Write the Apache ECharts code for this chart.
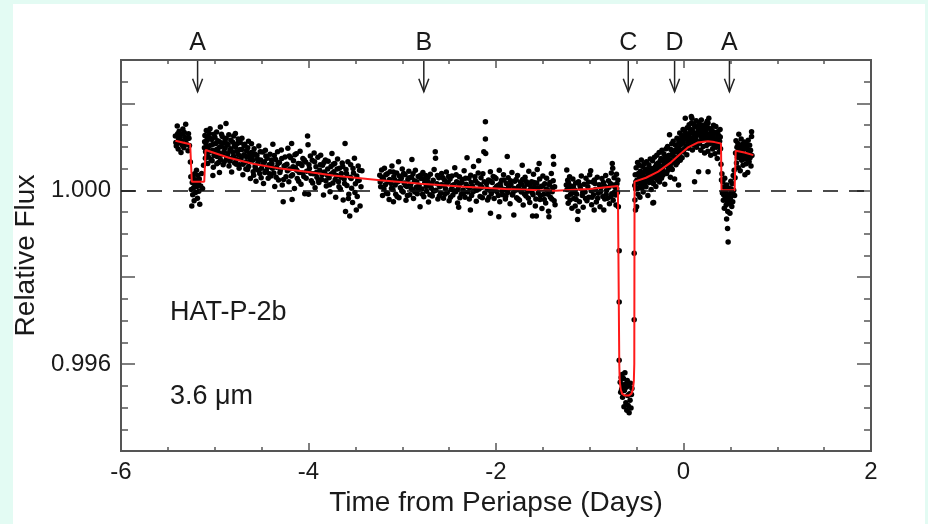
<!DOCTYPE html>
<html>
<head>
<meta charset="utf-8">
<script src="https://cdn.jsdelivr.net/npm/echarts@6/dist/echarts.min.js"></script>
<style>
  html, body { margin: 0; padding: 0; background: #e3fbf3; }
  #panel { position: absolute; left: 13px; top: 4px; width: 912px; height: 520px; background: #ffffff; }
  #chart { position: absolute; left: 0; top: 0; width: 928px; height: 524px; }
</style>
</head>
<body>
<div id="panel"></div>
<div id="chart"></div>
<script>
// Relative flux given as offsets from 1.000 in units of 1e-4 : [time (days), offset]
const seg1 = [[-5.42,12.5],[-5.41,10.2],[-5.40,14.8],[-5.39,9.5],[-5.385,11.8],[-5.38,13.6],[-5.37,10.9],[-5.36,8.7],[-5.355,12.9],[-5.35,11.3],[-5.34,14.1],[-5.33,9.8],[-5.32,12.2],[-5.31,15.2],[-5.30,10.6],[-5.29,11.9],[-5.285,9.1],[-5.28,13.0],[-5.27,10.3],
[-5.26,6.5],[-5.255,3.1],[-5.25,0.2],[-5.245,-3.6],[-5.24,1.8],[-5.235,-1.0],[-5.23,2.9],[-5.225,0.6],[-5.22,-2.4],[-5.215,3.8],[-5.21,1.2],[-5.205,-0.5],[-5.20,2.3],[-5.195,4.6],[-5.19,0.9],[-5.185,-1.8],[-5.18,3.4],[-5.175,1.5],[-5.17,-0.2],[-5.165,2.6],[-5.16,-3.2],[-5.15,1.0],[-5.14,3.9],[-5.13,0.4],[-5.12,5.8],
[-5.11,9.8],[-5.105,12.6],[-5.10,7.4],[-5.095,10.9],[-5.09,13.8],[-5.085,8.3],[-5.08,11.5],[-5.075,6.2],[-5.07,9.9],[-5.065,12.1],[-5.06,8.8],[-5.05,14.2],[-5.045,10.4],[-5.04,7.1],[-5.03,11.7],[-5.02,9.2],[-5.02,3.4],[-5.015,5.3],[-5.01,12.9],[-5.00,8.6],[-4.99,10.8],[-4.98,13.4],[-4.975,7.8],[-4.97,9.5],[-4.96,6.4],[-4.95,11.2],[-4.95,4.1],[-4.94,14.6],[-4.935,8.1],[-4.93,10.1],[-4.92,12.4],[-4.91,5.9],[-4.90,9.0],[-4.89,11.6],[-4.88,15.4],[-4.875,7.3],[-4.87,10.7],[-4.86,8.4],[-4.85,12.8],[-4.84,6.7],[-4.83,9.6],[-4.82,4.2],[-4.81,11.1],[-4.80,7.9],[-4.79,10.3],[-4.78,13.1],[-4.77,6.0],[-4.76,8.9],[-4.75,11.8],[-4.74,5.1],[-4.73,9.4],[-4.72,7.2],[-4.71,12.0],[-4.70,3.6],[-4.69,8.2],[-4.68,10.6],[-4.67,6.5],[-4.66,9.1],[-4.65,4.8],[-4.64,11.3],[-4.63,7.6],[-4.62,2.7],[-4.61,8.7],
[-4.60,7.8],[-4.59,4.3],[-4.58,9.6],[-4.57,5.5],[-4.56,2.1],[-4.55,8.1],[-4.54,6.3],[-4.53,10.2],[-4.52,3.9],[-4.51,7.0],[-4.50,5.1],[-4.49,8.8],[-4.48,1.6],[-4.47,6.6],[-4.46,9.2],[-4.45,4.5],[-4.44,7.4],[-4.43,2.8],[-4.42,5.9],[-4.41,8.3],[-4.40,3.3],[-4.39,6.1],[-4.38,10.6],[-4.37,4.0],[-4.36,0.9],[-4.35,7.1],[-4.34,5.3],[-4.33,8.9],[-4.32,2.4],[-4.31,6.4],[-4.30,4.7],[-4.29,9.3],[-4.28,1.2],[-4.27,-2.6],[-4.26,5.6],[-4.25,7.7],[-4.24,3.1],[-4.23,6.0],[-4.22,9.7],[-4.21,2.0],[-4.20,4.9],[-4.19,7.5],[-4.18,10.8],[-4.175,-2.1],[-4.17,3.6],[-4.16,6.8],[-4.15,0.4],[-4.14,5.2],[-4.13,8.4],[-4.12,2.7],[-4.11,6.2],[-4.10,4.1],[-4.09,9.0],[-4.08,1.4],[-4.07,5.7],[-4.06,7.3],[-4.05,3.2],[-4.04,-0.8],[-4.03,6.5],[-4.02,4.4],[-4.01,12.5],[-4.005,10.5],[-4.00,-0.9],[-3.99,5.0],[-3.98,7.9],[-3.97,2.2],[-3.96,6.9],[-3.95,3.8],[-3.94,8.6],[-3.93,0.6],[-3.92,5.4],[-3.91,3.0],[-3.90,7.6],[-3.89,1.8],[-3.88,4.6],[-3.87,8.1],[-3.86,2.5],[-3.85,5.8],[-3.84,-1.1],[-3.83,4.2],[-3.82,7.0],[-3.81,1.0],[-3.80,3.5],[-3.79,6.7],[-3.78,2.9],[-3.77,-0.3],[-3.76,5.5],[-3.75,8.5],[-3.74,1.7],[-3.73,4.3],[-3.72,6.2],[-3.71,-1.6],[-3.70,3.4],[-3.69,7.2],[-3.68,2.0],[-3.67,5.1],[-3.66,0.3],[-3.65,3.9],[-3.64,6.3],[-3.63,-2.2],[-3.62,2.6],[-3.61,10.8],[-3.605,-4.9],[-3.60,4.8],[-3.59,1.1],[-3.58,6.6],[-3.57,-0.9],[-3.56,-5.9],[-3.555,3.0],[-3.55,5.9],[-3.54,0.5],[-3.53,-2.8],[-3.52,4.0],[-3.51,7.4],[-3.50,1.5],[-3.49,-4.5],[-3.485,3.3],[-3.48,-1.4],[-3.47,5.6],[-3.46,2.3],[-3.45,-3.6],[-3.44,0.8],[-3.43,4.5]];

const seg1b = [[-5.415,11.0],[-5.395,13.0],[-5.375,12.1],[-5.345,10.4],[-5.325,13.3],[-5.305,11.7],[-5.275,12.0],
[-5.108,11.2],[-5.098,8.9],[-5.088,12.4],[-5.078,10.1],[-5.068,7.7],[-5.058,13.1],[-5.048,9.0],[-5.038,11.9],[-5.028,6.8],[-5.018,10.6],[-5.008,8.0],[-4.998,12.2],[-4.988,9.3],[-4.978,6.1],[-4.968,11.4],[-4.958,8.7],[-4.948,10.0],[-4.938,7.0],[-4.928,12.9],[-4.918,8.4],[-4.908,10.9],[-4.898,6.6],[-4.888,9.8],[-4.878,12.0],[-4.868,7.9],[-4.858,10.5],[-4.848,5.6],[-4.838,9.2],[-4.828,11.5],[-4.818,7.4],[-4.808,8.8],[-4.798,12.5],[-4.788,6.3],[-4.778,9.9],[-4.768,7.1],[-4.758,10.8],[-4.748,8.2],[-4.738,5.9],[-4.728,11.0],[-4.718,7.7],[-4.708,9.4],[-4.698,6.0],[-4.688,10.3],[-4.678,8.0],[-4.668,4.9],[-4.658,7.6],[-4.648,9.8],[-4.638,5.5],[-4.628,8.5],[-4.618,6.9],[-4.608,10.7],
[-4.595,6.9],[-4.585,3.5],[-4.575,8.4],[-4.565,5.0],[-4.545,7.2],[-4.535,4.6],[-4.515,8.9],[-4.505,2.9],[-4.485,6.0],[-4.465,4.1],[-4.455,7.9],[-4.435,5.3],[-4.415,3.8],[-4.395,7.0],[-4.385,5.1],[-4.365,8.0],[-4.345,3.0],[-4.325,6.2],[-4.305,4.1],[-4.285,7.3],[-4.265,2.5],[-4.245,5.8],[-4.225,4.5],[-4.205,7.9],[-4.185,3.3],[-4.165,5.4],[-4.145,8.2],[-4.125,4.6],[-4.105,2.1],[-4.085,6.1],[-4.065,4.0],[-4.045,7.0],[-4.025,2.8],[-3.995,5.9],[-3.975,3.9],[-3.955,1.7],[-3.935,6.6],[-3.915,4.1],[-3.895,2.4],[-3.875,5.9],[-3.855,3.6],[-3.835,6.4],[-3.815,2.2],[-3.795,4.9],[-3.775,1.3],[-3.755,3.8],[-3.735,6.0],[-3.715,2.5],[-3.695,4.9],[-3.675,0.8],[-3.655,3.0],[-3.635,5.5],[-3.615,1.6],[-3.595,3.9],[-3.575,-1.9],[-3.545,2.7],[-3.525,5.0],[-3.505,-0.5],[-3.475,2.2],[-3.455,4.6]];

const seg2 = [[-3.24,3.5],[-3.23,0.8],[-3.22,4.7],[-3.21,-1.2],[-3.20,2.6],[-3.19,5.1],[-3.18,1.3],[-3.17,-0.6],[-3.16,3.8],[-3.15,2.0],[-3.14,-2.1],[-3.13,4.3],[-3.12,1.6],[-3.11,5.6],[-3.10,0.2],[-3.094,-2.6],[-3.09,3.1],[-3.08,2.4],[-3.07,-0.9],[-3.06,4.0],[-3.05,1.9],[-3.04,6.6],[-3.035,-1.7],[-3.03,3.3],[-3.02,0.6],[-3.01,2.8],[-3.00,4.9],[-2.99,-0.4],[-2.98,1.7],[-2.97,3.6],[-2.96,-2.3],[-2.95,0.9],[-2.94,2.5],[-2.93,4.4],[-2.92,-1.0],[-2.91,1.4],[-2.90,3.0],[-2.897,7.1],[-2.89,0.1],[-2.88,-1.9],[-2.87,2.2],[-2.86,4.6],[-2.85,0.7],[-2.84,-0.8],[-2.83,3.2],[-2.82,1.1],[-2.81,-3.8],[-2.80,2.7],[-2.79,0.3],[-2.78,4.1],[-2.77,-1.5],[-2.76,1.8],[-2.75,3.4],[-2.74,-0.2],[-2.73,2.1],[-2.72,-2.7],[-2.71,1.0],[-2.70,3.7],[-2.69,0.5],[-2.68,-1.3],[-2.67,2.3],[-2.66,4.8],[-2.648,8.9],[-2.645,7.4],[-2.64,0.0],[-2.63,1.5],[-2.62,-2.0],[-2.61,2.9],[-2.60,0.8],[-2.59,-0.7],[-2.58,3.9],[-2.57,1.2],[-2.56,-1.8],[-2.55,2.4],[-2.54,0.4],[-2.53,4.2],[-2.52,-0.5],[-2.51,1.9],[-2.50,-2.4],[-2.49,2.6],[-2.48,0.2],[-2.47,3.3],[-2.46,-1.1],[-2.45,1.3],[-2.44,5.2],[-2.43,-0.3],[-2.42,2.0],[-2.41,-2.9],[-2.40,0.9],[-2.398,-3.9],[-2.39,3.1],[-2.38,1.6],[-2.37,-0.9],[-2.36,2.5],[-2.35,0.1],[-2.34,4.5],[-2.33,-1.6],[-2.32,1.4],[-2.309,7.5],[-2.30,-0.4],[-2.29,2.8],[-2.28,0.6],[-2.273,-4.5],[-2.27,3.5],[-2.26,-1.2],[-2.25,1.0],[-2.24,5.5],[-2.23,-0.1],[-2.22,2.2],[-2.21,-2.5],[-2.20,1.7],[-2.19,4.0],[-2.185,6.8],[-2.18,0.3],[-2.17,-1.4],[-2.16,2.9],[-2.15,0.7],[-2.14,3.8],[-2.13,8.9],[-2.12,-0.6],[-2.113,15.8],[-2.113,11.8],[-2.11,8.5],[-2.10,1.5],[-2.09,-2.2],[-2.08,2.4],[-2.07,0.0],[-2.06,4.3],[-2.059,-5.3],[-2.05,-0.8],[-2.04,1.8],[-2.03,3.2],[-2.02,-1.9],[-2.01,0.5],[-2.00,2.7],[-1.99,-0.3],[-1.98,1.1],[-1.97,-6.1],[-1.965,4.6],[-1.96,-2.6],[-1.95,0.8],[-1.94,2.3],[-1.93,-1.0],[-1.92,3.6],[-1.91,0.2],[-1.90,-2.0],[-1.89,1.6],[-1.88,7.8],[-1.875,-0.5],[-1.87,2.9],[-1.86,0.4],[-1.85,-3.1],[-1.84,1.3],[-1.83,4.1],[-1.82,-0.7],[-1.81,-5.7],[-1.80,2.1],[-1.79,0.0],[-1.78,-1.7],[-1.77,3.4],[-1.76,0.9],[-1.75,-2.3],[-1.74,1.9],[-1.73,-0.4],[-1.72,5.8],[-1.715,2.5],[-1.71,-3.4],[-1.70,0.6],[-1.69,3.0],[-1.68,-1.3],[-1.67,1.4],[-1.66,-0.2],[-1.65,4.4],[-1.64,-2.8],[-1.63,0.3],[-1.62,2.0],[-1.61,-5.9],[-1.605,-1.0],[-1.60,3.7],[-1.59,0.7],[-1.58,-3.6],[-1.57,-5.9],[-1.565,1.7],[-1.56,4.8],[-1.55,-0.6],[-1.54,6.2],[-1.535,2.6],[-1.53,-2.1],[-1.52,0.9],[-1.51,-4.2],[-1.50,3.3],[-1.49,-0.9],[-1.48,1.5],[-1.47,-2.9],[-1.46,2.8],[-1.45,0.1],[-1.44,-4.8],[-1.435,-6.1],[-1.43,1.2],[-1.42,-1.6],[-1.41,3.9],[-1.40,-0.3],[-1.39,2.2],[-1.388,7.8],[-1.385,6.0],[-1.38,-2.4],[-1.375,0.8],[-1.37,-3.3]];

const seg2b = [[-3.235,1.9],[-3.215,3.0],[-3.195,0.3],[-3.175,3.6],[-3.155,-0.8],[-3.135,2.5],[-3.115,0.5],[-3.095,4.2],[-3.075,1.2],[-3.055,-1.4],[-3.025,2.2],[-3.005,-0.1],[-2.985,3.9],[-2.965,1.1],[-2.945,-1.2],[-2.925,2.9],[-2.905,0.4],[-2.885,3.8],[-2.865,-0.4],[-2.845,2.0],[-2.825,0.2],[-2.805,3.5],[-2.785,-0.9],[-2.765,2.6],[-2.745,0.9],[-2.725,3.0],[-2.705,-1.0],[-2.685,1.6],[-2.665,-0.2],[-2.625,3.4],[-2.605,-1.3],[-2.585,1.3],[-2.565,2.9],[-2.545,-0.9],[-2.525,1.6],[-2.505,3.2],[-2.485,-1.6],[-2.465,1.1],[-2.445,-0.1],[-2.425,3.6],[-2.405,0.2],[-2.385,-1.7],[-2.365,1.9],[-2.345,-0.6],[-2.325,2.8],[-2.305,0.9],[-2.285,-2.0],[-2.265,1.8],[-2.245,-0.3],[-2.225,3.1],[-2.205,0.0],[-2.165,1.3],[-2.145,-1.7],[-2.125,2.0],[-2.095,0.4],[-2.075,-1.6],[-2.055,2.1],[-2.035,-0.1],[-2.015,3.0],[-1.995,0.9],[-1.975,-1.2],[-1.955,1.5],[-1.935,-0.2],[-1.915,2.4],[-1.895,-1.3],[-1.865,0.9],[-1.845,2.2],[-1.825,-1.1],[-1.805,0.4],[-1.785,2.5],[-1.765,-2.0],[-1.745,0.1],[-1.725,1.4],[-1.695,-0.9],[-1.675,2.0],[-1.655,-1.8],[-1.635,1.2],[-1.615,-0.5],[-1.595,1.8],[-1.575,-2.0],[-1.555,0.6],[-1.525,-1.2],[-1.505,1.0],[-1.485,-2.1],[-1.465,0.3],[-1.445,-0.9],[-1.425,1.8],[-1.405,-2.0],[-1.395,0.6]];

const seg3 = [[-1.25,1.2],[-1.245,4.7],[-1.24,-1.5],[-1.235,2.3],[-1.23,-3.0],[-1.22,0.4],[-1.215,3.1],[-1.21,-2.2],[-1.20,1.0],[-1.19,-4.1],[-1.185,-0.6],[-1.18,2.6],[-1.17,-1.9],[-1.16,0.1],[-1.155,-3.6],[-1.15,1.7],[-1.14,-0.9],[-1.13,-6.7],[-1.125,-4.8],[-1.12,2.0],[-1.11,-2.6],[-1.10,0.5],[-1.09,3.3],[-1.08,-1.2],[-1.07,-3.9],[-1.06,1.4],[-1.05,-0.4],[-1.04,2.8],[-1.03,-2.4],[-1.02,0.8],[-1.01,-1.6],[-1.00,3.6],[-0.99,4.5],[-0.985,-0.1],[-0.98,-3.3],[-0.97,1.9],[-0.96,-1.0],[-0.953,-4.5],[-0.95,2.4],[-0.94,0.2],[-0.93,-2.7],[-0.92,3.0],[-0.91,-0.7],[-0.90,1.3],[-0.89,-3.8],[-0.88,0.6],[-0.87,2.7],[-0.86,-1.4],[-0.85,-4.5],[-0.845,1.1],[-0.84,-2.0],[-0.83,3.4],[-0.82,0.0],[-0.81,-1.8],[-0.80,2.2],[-0.79,-3.1],[-0.78,1.6],[-0.77,4.0],[-0.765,-0.8],[-0.76,6.2],[-0.755,5.1],[-0.75,-2.3],[-0.74,2.9],[-0.73,0.7],[-0.725,-1.1],[-0.72,-3.4],[-0.715,3.7],[-0.71,1.5],[-0.705,-0.5],[-0.70,2.4],
[-1.242,0.2],[-1.228,1.8],[-1.205,-0.9],[-1.175,0.9],[-1.145,-2.1],[-1.105,1.1],[-1.075,-0.5],[-1.045,-1.9],[-1.015,1.9],[-0.975,-1.6],[-0.945,1.6],[-0.915,-1.8],[-0.885,-0.3],[-0.855,1.8],[-0.825,-0.9],[-0.795,0.7],[-0.775,-1.5],[-0.745,1.2],[-0.735,-0.4],[-0.712,0.4]];

const transitC = [[-0.695,-3.8],[-0.686,-13.9],[-0.686,-25.7],[-0.686,-39.1],[-0.675,-44.2],[-0.67,-46.5],[-0.665,-43.1],[-0.66,-45.8],[-0.655,-42.4],[-0.65,-47.6],[-0.645,-44.9],[-0.64,-43.3],[-0.635,-49.8],[-0.63,-46.1],[-0.625,-42.0],[-0.62,-44.6],[-0.615,-48.9],[-0.61,-45.3],[-0.605,-50.6],[-0.60,-43.8],[-0.595,-47.2],[-0.59,-49.5],[-0.585,-45.0],[-0.58,-51.2],[-0.575,-46.8],[-0.57,-48.3],[-0.565,-44.4],[-0.56,-50.1],[-0.555,-47.0],[-0.55,-45.6],[-0.526,-14.5],[-0.526,-29.8]];

const seg4 = [[-0.52,1.1],[-0.518,-2.2],[-0.515,3.6],[-0.512,-4.5],[-0.51,0.3],[-0.505,5.2],[-0.50,-3.8],[-0.495,2.4],[-0.49,6.4],[-0.485,-0.9],[-0.48,3.9],[-0.475,1.6],[-0.47,5.8],[-0.465,-1.6],[-0.46,4.4],[-0.455,2.0],[-0.45,7.0],[-0.445,0.5],[-0.44,3.2],[-0.435,5.5],[-0.43,-0.4],[-0.425,2.7],[-0.42,6.1],[-0.415,1.3],[-0.41,4.8],[-0.405,3.0],[-0.40,0.8],[-0.395,6.6],[-0.39,2.2],[-0.385,4.1],[-0.38,-1.2],[-0.375,3.4],[-0.37,5.9],[-0.365,1.8],[-0.36,4.6],[-0.355,7.2],[-0.35,2.6],[-0.345,0.2],[-0.34,5.0],[-0.335,3.7],[-0.33,6.8],[-0.327,-2.9],[-0.32,1.5],[-0.319,-2.8],[-0.315,4.3],[-0.31,7.6],[-0.305,2.9],[-0.30,5.4],[-0.295,0.9],[-0.29,3.8],[-0.285,8.1],[-0.28,4.9],[-0.275,2.3],[-0.27,6.3],[-0.265,3.3],[-0.26,8.7],[-0.255,1.9],[-0.25,5.6],[-0.245,4.0],[-0.24,7.3],[-0.235,2.8],[-0.23,9.2],[-0.225,5.1],[-0.22,3.5],[-0.215,6.9],[-0.21,8.4],[-0.205,4.2],[-0.20,1.4],[-0.195,7.8],[-0.19,5.7],[-0.185,9.6],[-0.18,3.9],[-0.175,6.5],[-0.17,10.1],[-0.165,4.6],[-0.16,8.0],[-0.155,5.3],[-0.149,12.8],[-0.145,7.0],[-0.14,3.0],[-0.135,9.4],[-0.13,6.2],[-0.125,10.7],[-0.12,4.8],[-0.115,8.6],[-0.11,11.3],[-0.105,6.7],[-0.10,9.0],[-0.095,2.6],[-0.09,7.4],[-0.085,10.4],[-0.08,5.9],[-0.075,8.9],[-0.07,12.0],[-0.065,6.4],[-0.06,9.8],[-0.055,7.7],[-0.053,1.2],[-0.05,11.1],[-0.045,8.3],[-0.04,13.2],[-0.035,6.9],[-0.03,10.5],[-0.025,9.1],[-0.02,12.6],[-0.015,7.5],[-0.01,10.9],[-0.005,14.0],[0.00,8.8],[0.005,11.7],[0.01,9.5],[0.015,13.5],[0.019,16.6],[0.025,10.2],[0.03,12.3],[0.035,8.2],[0.04,14.4],[0.045,11.0],[0.05,13.0],[0.055,9.7],[0.06,15.1],[0.065,12.0],[0.07,10.6],[0.075,14.0],[0.08,11.8],[0.083,17.0],[0.085,15.5],[0.09,16.6],[0.095,9.3],[0.10,13.6],[0.105,12.1],[0.11,15.2],[0.115,10.4],[0.118,2.0],[0.12,14.6],[0.125,11.5],[0.13,13.1],[0.135,16.0],[0.14,9.9],[0.145,12.7],[0.15,14.8],[0.155,11.2],[0.16,13.9],[0.161,4.3],[0.165,15.6],[0.17,10.8],[0.175,12.9],[0.18,14.3],[0.185,9.2],[0.19,16.2],[0.195,11.6],[0.20,13.4],[0.205,15.0],[0.21,10.1],[0.215,12.5],[0.22,14.1],[0.225,8.6],[0.23,11.9],[0.235,13.7],[0.24,15.3],[0.245,10.3],[0.25,12.2],[0.255,14.5],[0.26,9.0],[0.262,15.5],[0.262,4.3],[0.265,11.4],[0.27,16.6],[0.275,13.0],[0.28,10.7],[0.285,14.2],[0.29,8.1],[0.295,12.4],[0.30,11.0],[0.305,13.8],[0.31,9.5],[0.315,12.8],[0.32,15.0],[0.325,10.0],[0.33,13.3],[0.335,8.4],[0.34,11.7],[0.345,14.7],[0.35,9.9],[0.355,12.0],[0.36,7.3],[0.365,13.5],[0.37,10.5],[0.375,12.6],[0.38,8.8],[0.385,11.3],[0.39,14.0],[0.395,9.6],
[0.40,6.0],[0.405,2.4],[0.41,3.8],[0.415,-0.6],[0.42,1.9],[0.425,-2.3],[0.43,0.7],[0.435,-4.1],[0.44,2.8],[0.445,-1.5],[0.45,-0.2],[0.455,-3.4],[0.46,-6.6],[0.462,1.2],[0.465,-2.0],[0.47,-8.8],[0.472,-4.9],[0.476,-11.9],[0.48,-1.0],[0.485,-3.0],[0.49,0.4],[0.495,-5.3],[0.50,-1.8],[0.505,2.1],[0.51,-0.5],[0.515,-3.7],[0.52,1.5],[0.525,-2.6],[0.53,3.4],[0.535,0.0],[0.54,4.6],[0.545,-1.2],[0.55,2.9],
[0.555,8.6],[0.56,11.4],[0.565,6.3],[0.57,9.9],[0.575,7.6],[0.58,10.8],[0.585,5.2],[0.59,12.9],[0.595,8.1],[0.60,10.2],[0.605,4.5],[0.61,9.0],[0.615,11.8],[0.62,6.9],[0.625,8.7],[0.63,10.6],[0.635,5.8],[0.64,9.4],[0.645,7.2],[0.65,11.1],[0.655,3.6],[0.66,8.3],[0.665,10.0],[0.67,6.1],[0.675,9.7],[0.68,7.8],[0.685,4.1],[0.69,11.5],[0.695,8.9],[0.70,6.6],[0.705,10.4],[0.71,7.5],[0.715,9.2],[0.72,5.6],[0.726,13.5],[0.726,12.4],[0.73,8.0]];

const seg4b = [[-0.508,2.0],[-0.488,0.4],[-0.468,3.0],[-0.448,1.0],[-0.428,4.0],[-0.408,1.9],[-0.388,4.9],[-0.368,2.6],[-0.348,3.9],[-0.328,1.8],[-0.308,4.8],[-0.288,6.0],[-0.268,3.9],[-0.248,6.8],[-0.228,4.3],[-0.208,6.0],[-0.188,7.1],[-0.168,5.6],[-0.148,8.1],[-0.128,5.0],[-0.108,7.9],[-0.088,9.2],[-0.068,7.0],[-0.048,9.6],[-0.028,11.7],[-0.008,9.2],[0.012,12.4],[0.032,10.0],[0.052,11.9],[0.072,13.1],[0.092,11.0],[0.112,13.0],[0.132,11.9],[0.152,13.3],[0.172,15.0],[0.192,12.2],[0.212,13.9],[0.232,12.7],[0.252,15.9],[0.272,11.6],[0.292,14.0],[0.312,12.1],[0.332,10.6],[0.352,13.1],[0.372,11.6],[0.392,12.3],[0.428,-1.0],[0.448,0.9],[0.468,-2.8],[0.488,-1.9],[0.508,0.3],[0.528,-0.8],[0.568,8.4],[0.588,9.6],[0.608,7.4],[0.628,9.9],[0.648,8.1],[0.668,10.7],[0.688,7.1],[0.708,9.0]];

// Model light curve, same units
const modelCurve = [[-5.42,11.4],[-5.262,10.6],[-5.245,2.0],[-5.112,2.0],[-5.098,9.3],[-4.85,7.5],[-4.594,6.1],[-4.30,5.0],[-4.00,4.2],[-3.737,3.4],[-3.237,2.3],[-2.80,1.5],[-2.337,0.8],[-1.90,0.3],[-1.374,-0.1],[-1.00,0.3],[-0.70,1.0],[-0.688,0.8],[-0.685,-40],[-0.68,-44],[-0.67,-45.8],[-0.655,-46.8],[-0.63,-47.2],[-0.58,-47.2],[-0.555,-46.8],[-0.54,-45.8],[-0.53,-44],[-0.525,-40],[-0.522,2.0],[-0.40,2.9],[-0.27,4.3],[-0.13,6.5],[-0.05,8.1],[0.05,9.9],[0.15,11.0],[0.26,11.3],[0.33,11.1],[0.40,10.8],[0.405,0.0],[0.545,0.0],[0.557,9.1],[0.65,8.7],[0.745,8.1]];

const eventTimes = [-5.183, -2.77, -0.589, -0.095, 0.49];
const eventLabels = ['A', 'B', 'C', 'D', 'A'];
const yLabelTicks = [0.996, 1.000];
const xRange = [-6, 2];
const yRange = [0.994, 1.003];

const FONT = "'Liberation Sans', Arial, Helvetica, sans-serif";
const toFlux = p => [p[0], 1 + p[1] * 1e-4];
const points = [].concat(seg1, seg1b, seg2, seg2b, seg3, transitC, seg4, seg4b).map(toFlux);
const model = modelCurve.map(toFlux);

const chart = echarts.init(document.getElementById('chart'), null, { renderer: 'canvas' });
const axisColor = '#555';
const textColor = '#1a1a1a';

function xAxisDef(pos, withLabel) {
  return {
    type: 'value', position: pos, min: xRange[0], max: xRange[1], interval: 2,
    axisLine: { show: true, onZero: false, lineStyle: { color: axisColor, width: 2 } },
    axisTick: { show: true, inside: true, length: 8, lineStyle: { color: axisColor, width: 1.5 } },
    minorTick: { show: true, splitNumber: 4, length: 4, lineStyle: { color: axisColor, width: 1.5 } },
    splitLine: { show: false },
    axisLabel: { show: withLabel, fontSize: 24, color: textColor, fontFamily: FONT, margin: 9 },
    name: withLabel ? 'Time from Periapse (Days)' : '',
    nameLocation: 'middle', nameGap: 30,
    nameTextStyle: { fontSize: 28, color: textColor, fontFamily: FONT }
  };
}
function yAxisDef(pos, interval, len, withLabel) {
  return {
    type: 'value', position: pos, min: yRange[0], max: yRange[1], interval: interval,
    axisLine: { show: true, onZero: false, lineStyle: { color: axisColor, width: 2 } },
    axisTick: { show: true, inside: true, length: len, lineStyle: { color: axisColor, width: 1.5 } },
    splitLine: { show: false },
    axisLabel: {
      show: withLabel, fontSize: 24, color: textColor, fontFamily: FONT, margin: 10,
      formatter: v => {
        for (const t of yLabelTicks) if (Math.abs(v - t) < 1e-7) return t.toFixed(3);
        return '';
      }
    },
    name: withLabel ? 'Relative Flux' : '',
    nameLocation: 'middle', nameGap: 80,
    nameTextStyle: { fontSize: 28, color: textColor, fontFamily: FONT }
  };
}

const option = {
  animation: false,
  backgroundColor: 'transparent',
  grid: { left: 121, right: 57, top: 60, bottom: 73, containLabel: false },
  xAxis: [xAxisDef('bottom', true), xAxisDef('top', false)],
  yAxis: [
    yAxisDef('left', 0.0005, 7, true),
    yAxisDef('left', 0.002, 14, false),
    yAxisDef('right', 0.0005, 7, false),
    yAxisDef('right', 0.002, 14, false)
  ],
  graphic: [
    { type: 'text', x: 170, y: 313, style: { text: 'HAT-P-2b', fontSize: 27, fontFamily: FONT, fill: textColor, verticalAlign: 'middle' } },
    { type: 'text', x: 170, y: 397, style: { text: '3.6 μm', fontSize: 27, fontFamily: FONT, fill: textColor, verticalAlign: 'middle' } }
  ],
  series: [
    {
      type: 'line', data: [], xAxisIndex: 0, yAxisIndex: 0, z: 1, silent: true,
      markLine: {
        silent: true, symbol: ['none', 'none'], label: { show: false },
        lineStyle: { color: '#111', type: [15, 11], width: 1.5 },
        data: [{ yAxis: 1.0 }]
      }
    },
    {
      type: 'scatter', data: points, xAxisIndex: 0, yAxisIndex: 0, z: 2,
      symbol: 'circle', symbolSize: 5.5, itemStyle: { color: '#000', opacity: 1 }, silent: true
    },
    {
      type: 'line', data: model, xAxisIndex: 0, yAxisIndex: 0, z: 3,
      showSymbol: false, symbol: 'none', lineStyle: { color: '#ff1a1a', width: 2 }, silent: true
    },
    {
      type: 'custom', xAxisIndex: 0, yAxisIndex: 0, z: 4, clip: false, silent: true,
      data: eventTimes.map((t, i) => [t, i]),
      renderItem: (params, api) => {
        const t = api.value(0);
        const label = eventLabels[api.value(1)];
        const top = api.coord([t, yRange[1]]);
        const tip = api.coord([t, 1.00227]);
        return {
          type: 'group',
          children: [
            { type: 'line', shape: { x1: top[0], y1: top[1] + 1, x2: tip[0], y2: tip[1] }, style: { stroke: '#222', lineWidth: 1.5 } },
            { type: 'polyline', shape: { points: [[tip[0] - 5, tip[1] - 13], [tip[0], tip[1]], [tip[0] + 5, tip[1] - 13]] }, style: { stroke: '#222', lineWidth: 1.5, fill: null } },
            { type: 'text', style: { text: label, x: top[0], y: top[1] - 17, align: 'center', verticalAlign: 'middle', fontSize: 25, fontFamily: FONT, fill: textColor } }
          ]
        };
      }
    }
  ]
};
chart.setOption(option);
</script>
</body>
</html>
